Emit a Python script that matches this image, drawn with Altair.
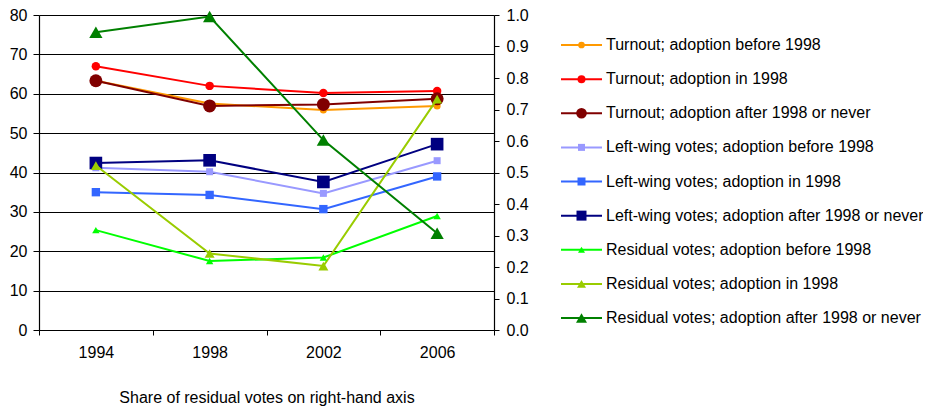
import altair as alt
import pandas as pd

years = ["1994", "1998", "2002", "2006"]

series = [
    "Turnout; adoption before 1998",
    "Turnout; adoption in 1998",
    "Turnout; adoption after 1998 or never",
    "Left-wing votes; adoption before 1998",
    "Left-wing votes; adoption in 1998",
    "Left-wing votes; adoption after 1998 or never",
    "Residual votes; adoption before 1998",
    "Residual votes; adoption in 1998",
    "Residual votes; adoption after 1998 or never",
]

turnout_before = [63.3, 57.5, 55.9, 56.9]
turnout_in = [67.0, 62.0, 60.2, 60.7]
turnout_after = [63.3, 56.9, 57.3, 58.7]
left_before = [41.2, 40.2, 34.7, 43.0]
left_in = [35.0, 34.3, 30.7, 39.0]
left_after = [42.4, 43.1, 37.6, 47.2]
resid_before = [0.317, 0.219, 0.230, 0.362]
resid_in = [0.522, 0.243, 0.203, 0.733]
resid_after = [0.945, 0.995, 0.603, 0.307]

colors = ["#FF9900", "#FF0000", "#800000",
          "#9999FF", "#3366FF", "#000080",
          "#00FF00", "#99CC00", "#008000"]
shapes = ["circle"] * 3 + ["square"] * 3 + ["triangle-up"] * 3
sizes = [49, 72, 169, 49, 70, 160, 55, 100, 175]
legend_sizes = [45, 64, 114, 49, 64, 100, 49, 81, 121]

left_values = [turnout_before, turnout_in, turnout_after, left_before, left_in, left_after]
right_values = [resid_before, resid_in, resid_after]

rows_left = []
for s, vals in zip(series[:6], left_values):
    for y, v in zip(years, vals):
        rows_left.append({"series": s, "year": y, "value": v})
rows_right = []
for s, vals in zip(series[6:], right_values):
    for y, v in zip(years, vals):
        rows_right.append({"series": s, "year": y, "value": v})

df_left = pd.DataFrame(rows_left)
df_right = pd.DataFrame(rows_right)
df_legend = pd.DataFrame({"series": series})

FONT = "Liberation Sans"
FS = 16

x_enc = alt.X(
    "year:O",
    sort=years,
    scale=alt.Scale(type="band", paddingInner=0, paddingOuter=0),
    axis=alt.Axis(
        title="Share of residual votes on right-hand axis",
        tickBand="extent",
        labelAngle=0,
        tickSize=5,
        labelPadding=9,
        titlePadding=29,
        grid=False,
    ),
)

color_enc = alt.Color("series:N", scale=alt.Scale(domain=series, range=colors), legend=None)
shape_enc = alt.Shape("series:N", scale=alt.Scale(domain=series, range=shapes), legend=None)
size_enc = alt.Size("series:N", scale=alt.Scale(type="ordinal", domain=series, range=sizes), legend=None)
size_leg_enc = alt.Size("series:N", scale=alt.Scale(type="ordinal", domain=series, range=legend_sizes), legend=None)

y_left = alt.Y(
    "value:Q",
    scale=alt.Scale(domain=[0, 80], nice=False),
    axis=alt.Axis(orient="left", values=list(range(0, 81, 10)), grid=True,
                  gridColor="#000000", gridWidth=1, tickSize=6, labelPadding=6, title=None),
)
y_right = alt.Y(
    "value:Q",
    scale=alt.Scale(domain=[0, 1], nice=False),
    axis=alt.Axis(orient="right", values=[i / 10 for i in range(11)], format=".1f",
                  grid=False, tickSize=5, labelPadding=7, title=None),
)

base_l = alt.Chart(df_left).encode(x=x_enc, y=y_left, color=color_enc)
layer_l = alt.layer(
    base_l.mark_line(strokeWidth=2),
    base_l.mark_point(filled=True, opacity=1).encode(shape=shape_enc, size=size_enc),
)
base_r = alt.Chart(df_right).encode(x=x_enc, y=y_right, color=color_enc)
layer_r = alt.layer(
    base_r.mark_line(strokeWidth=2),
    base_r.mark_point(filled=True, opacity=1).encode(shape=shape_enc, size=size_enc),
)

y_leg = alt.Y("series:N", sort=series,
              scale=alt.Scale(type="point", range=[30, 303], padding=0), axis=None)
base_leg = alt.Chart(df_legend).encode(y=y_leg)
layer_leg = alt.layer(
    base_leg.mark_rule(strokeWidth=2).encode(x=alt.value(522), x2=alt.value(563), color=color_enc),
    base_leg.mark_point(filled=True, opacity=1).encode(
        x=alt.value(542.5), color=color_enc, shape=shape_enc, size=size_leg_enc),
    base_leg.mark_text(align="left", baseline="middle", fontSize=FS, font=FONT, color="black").encode(
        x=alt.value(567), text="series:N"),
)

chart = (
    alt.layer(layer_l, layer_r, layer_leg)
    .resolve_scale(y="independent", size="independent")
    .properties(
        width=455,
        height=315,
        padding={"left": 31, "top": 7, "right": 429, "bottom": 76},
        autosize=alt.AutoSizeParams(type="none"),
        background="white",
    )
    .configure_view(stroke=None)
    .configure_axis(
        labelFont=FONT,
        labelFontSize=FS,
        labelColor="black",
        titleFont=FONT,
        titleFontSize=FS,
        titleFontWeight="normal",
        titleColor="black",
        domainColor="black",
        domainWidth=1.2,
        tickColor="black",
        tickWidth=1,
    )
)

chart.save("out.html", embed_options={"renderer": "svg", "actions": False})
